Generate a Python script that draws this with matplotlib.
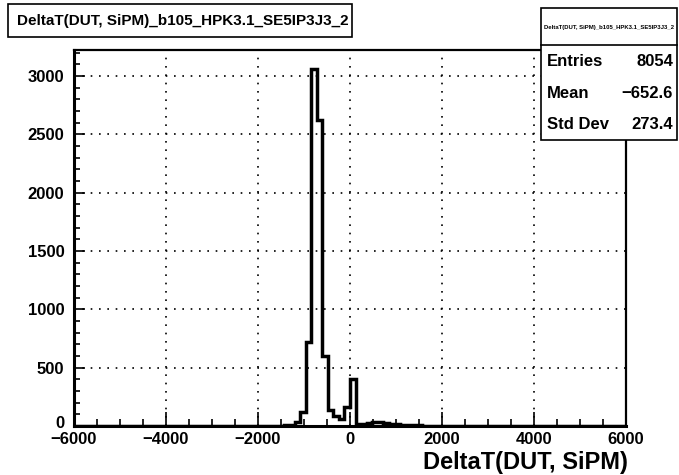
import numpy as np
import matplotlib
matplotlib.use("Agg")
import matplotlib.pyplot as plt
import matplotlib.transforms as mtransforms
from matplotlib.patches import Rectangle
from matplotlib.lines import Line2D
from matplotlib.ticker import MultipleLocator

plt.rcParams['font.family'] = ['Liberation Sans', 'DejaVu Sans']
plt.rcParams['font.weight'] = 'bold'

# ---------------- data ----------------
hist_title = "DeltaT(DUT, SiPM)_b105_HPK3.1_SE5IP3J3_2"
x_label = "DeltaT(DUT, SiPM)"
x_min, x_max, n_bins = -6000, 6000, 100

# bin contents, bin k covers [-6000 + 120k, -6000 + 120(k+1)]
counts = ([0] * 36
          + [2, 3, 5, 10, 37, 120, 720, 3060, 2620, 600, 135, 85, 60, 160, 405]
          + [15, 20, 28, 32, 30, 25, 18, 14, 10, 8, 6, 5, 4, 3, 3, 2, 2]
          + [0] * 32)

stat_names = ["Entries", "Mean", "Std Dev"]
stat_values = ["8054", "\u2212652.6", "273.4"]

W, H = 679, 475


def fx(px):
    return px / W


def fy(py):
    return 1 - py / H


edges = np.linspace(x_min, x_max, n_bins + 1)

fig = plt.figure(figsize=(W / 100, H / 100), dpi=100)
ax = fig.add_axes([fx(74), fy(426), fx(626) - fx(74), fy(50) - fy(426)])

ax.stairs(counts, edges, color='black', lw=2.5, zorder=3)
ax.set_xlim(x_min, x_max)
ax.set_ylim(0, 3222)

ax.xaxis.set_major_locator(MultipleLocator(2000))
ax.xaxis.set_minor_locator(MultipleLocator(500))
ax.yaxis.set_major_locator(MultipleLocator(500))
ax.yaxis.set_minor_locator(MultipleLocator(100))

ax.tick_params(direction='in', which='both', top=False, right=False, width=1.2)
ax.tick_params(axis='x', which='major', length=10, labelsize=12, pad=4)
ax.tick_params(axis='x', which='minor', length=5)
ax.tick_params(axis='y', which='major', length=8, labelsize=12, pad=7)
ax.tick_params(axis='y', which='minor', length=4)
for lab in ax.get_xticklabels() + ax.get_yticklabels():
    lab.set_fontweight('bold')

# lift the "0" on the y axis a little so it clears the x labels
fig.canvas.draw()
lift = mtransforms.ScaledTranslation(0, 3 / 72, fig.dpi_scale_trans)
for lab in ax.get_yticklabels():
    if lab.get_text() == "0":
        lab.set_transform(lab.get_transform() + lift)

ax.grid(which='major', color='black', linestyle=(0, (1, 4)), lw=1.2, zorder=1)
for sp in ax.spines.values():
    sp.set_linewidth(1.6)
ax.spines['left'].set_linewidth(2.2)
ax.spines['bottom'].set_linewidth(2.2)

fig.text(fx(628), fy(462), x_label, ha='right', va='center', fontsize=17, fontweight='bold')

# title box
fig.patches.append(Rectangle((fx(8), fy(37)), fx(352) - fx(8), fy(4) - fy(37),
                             transform=fig.transFigure, facecolor='white',
                             edgecolor='black', lw=1.2))
fig.text(fx(17), fy(21), hist_title, ha='left', va='center', fontsize=11, fontweight='bold')

# stats box
fig.patches.append(Rectangle((fx(541), fy(140)), fx(677) - fx(541), fy(8) - fy(140),
                             transform=fig.transFigure, facecolor='white',
                             edgecolor='black', lw=1.2, zorder=5))
fig.lines.append(Line2D([fx(541), fx(677)], [fy(45), fy(45)], transform=fig.transFigure,
                        color='black', lw=1.2, zorder=6))
fig.text(fx(609), fy(27), hist_title, ha='center', va='center', fontsize=4.3,
         fontweight='bold', zorder=6)
row_y = [62, 94, 125]
for name, val, yy in zip(stat_names, stat_values, row_y):
    fig.text(fx(547), fy(yy), name, ha='left', va='center', fontsize=12, fontweight='bold', zorder=6)
    fig.text(fx(673), fy(yy), val, ha='right', va='center', fontsize=12, fontweight='bold', zorder=6)

fig.savefig("out.png", dpi=100)
